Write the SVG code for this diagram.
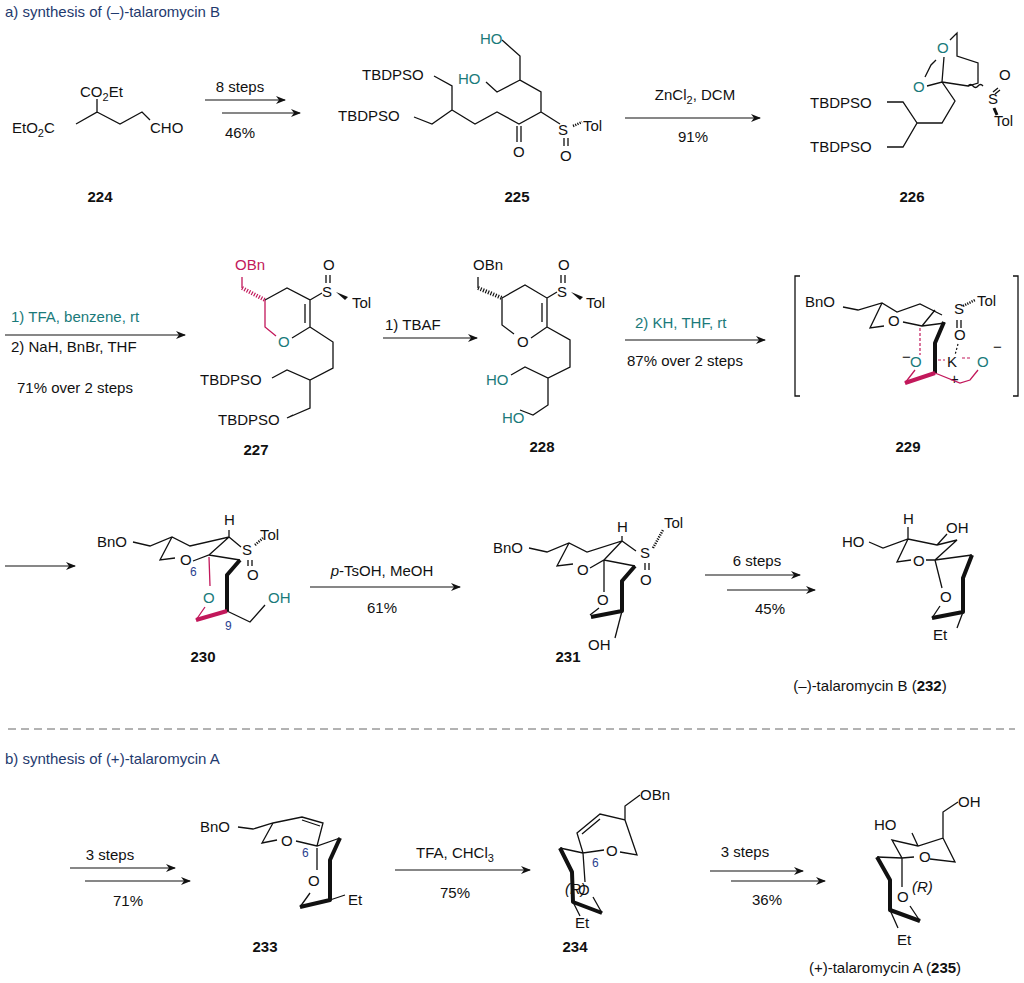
<svg xmlns="http://www.w3.org/2000/svg" width="1024" height="983" viewBox="0 0 1024 983">
<style>
text{font-family:"Liberation Sans",Arial,sans-serif;font-size:15px;fill:#111}
.h{fill:#1f3a6e}
.t{fill:#1a7a7a}
.m{fill:#c2185b}
.n{fill:#2a3f8f;font-size:12px}
.b{font-weight:bold}
.c{text-anchor:middle}
.bd{stroke:#111;stroke-width:1.3;fill:none}
.w{stroke:#111;stroke-width:4;fill:none;stroke-linejoin:round}
.mg{stroke:#c2185b;stroke-width:1.3;fill:none}
.mw{stroke:#c2185b;stroke-width:4;fill:none}
.hs{stroke:#111;stroke-width:4;stroke-dasharray:1.2,1.5;fill:none}
.ar{stroke:#111;stroke-width:1.2;fill:none;marker-end:url(#ah)}
</style>
<defs><marker id="ah" markerWidth="10" markerHeight="8" refX="9" refY="4" orient="auto" markerUnits="userSpaceOnUse"><path d="M0,0 L10,4 L0,8 L3,4 z" fill="#111"/></marker></defs>
<rect width="1024" height="983" fill="#fff"/>
<text class="h" x="5" y="17">a) synthesis of (–)-talaromycin B</text>
<text class="h" x="5" y="764">b) synthesis of (+)-talaromycin A</text>
<line x1="8" y1="729" x2="1015" y2="729" stroke="#666" stroke-width="1" stroke-dasharray="8,5"/>

<g id="connectors">
<line class="ar" x1="205" y1="100" x2="285" y2="100"/><line class="ar" x1="222" y1="113" x2="300" y2="113"/>
<text class="c" x="240" y="92">8 steps</text><text class="c" x="240" y="138">46%</text>
<line class="ar" x1="625" y1="118" x2="760" y2="118"/>
<text class="c" x="695" y="100">ZnCl<tspan font-size="11" dy="4">2</tspan><tspan dy="-4">, DCM</tspan></text><text class="c" x="693" y="142">91%</text>
<line class="ar" x1="5" y1="335" x2="185" y2="335"/>
<text class="t" x="11" y="322">1) TFA, benzene, rt</text><text x="11" y="352">2) NaH, BnBr, THF</text><text x="17" y="393">71% over 2 steps</text>
<line class="ar" x1="383" y1="338" x2="477" y2="338"/>
<text x="385" y="330">1) TBAF</text>
<line class="ar" x1="625" y1="340" x2="765" y2="340"/>
<text class="t" x="635" y="328">2) KH, THF, rt</text><text x="627" y="366">87% over 2 steps</text>
<line class="ar" x1="5" y1="566" x2="75" y2="566"/>
<line class="ar" x1="310" y1="587" x2="460" y2="587"/>
<text class="c" x="382" y="576"><tspan font-style="italic">p</tspan>-TsOH, MeOH</text><text class="c" x="382" y="613">61%</text>
<line class="ar" x1="705" y1="575" x2="800" y2="575"/><line class="ar" x1="727" y1="590" x2="815" y2="590"/>
<text class="c" x="757" y="566">6 steps</text><text class="c" x="770" y="614">45%</text>
<line class="ar" x1="70" y1="868" x2="175" y2="868"/><line class="ar" x1="85" y1="881" x2="190" y2="881"/>
<text class="c" x="110" y="860">3 steps</text><text class="c" x="128" y="906">71%</text>
<line class="ar" x1="395" y1="870" x2="530" y2="870"/>
<text class="c" x="455" y="858">TFA, CHCl<tspan font-size="11" dy="4">3</tspan></text><text class="c" x="455" y="898">75%</text>
<line class="ar" x1="710" y1="871" x2="803" y2="871"/><line class="ar" x1="731" y1="881" x2="825" y2="881"/>
<text class="c" x="745" y="857">3 steps</text><text class="c" x="767" y="905">36%</text>
</g>

<g id="n224">
<text x="80" y="97">CO<tspan font-size="11" dy="4">2</tspan><tspan dy="-4">Et</tspan></text>
<text x="12" y="133">EtO<tspan font-size="11" dy="4">2</tspan><tspan dy="-4">C</tspan></text>
<text x="150" y="133">CHO</text>
<path class="bd" d="M76,124 L97,112 L97,99 M97,112 L120,124 L142,112 L150,120"/>
<text class="b c" x="100" y="202">224</text>
</g>

<g id="n225">
<text x="362" y="80">TBDPSO</text><text x="338" y="121">TBDPSO</text>
<text class="t" x="480" y="44">HO</text><text class="t" x="458" y="84">HO</text>
<text x="513" y="157">O</text><text x="558" y="135">S</text><text x="583" y="131">Tol</text><text x="560" y="161">O</text>
<path class="bd" d="M434,76 L452,86 L452,110 M414,117 L432,124 L452,110 L475,124 L497,112 L519,124 L541,112 L560,124 M541,112 L541,92 L520,80 L520,56 L502,40 M520,80 L497,92 L486,82"/>
<path class="bd" d="M517,126 L517,142 M521,126 L521,142 M564,138 L564,146 M568,138 L568,146"/>
<path d="M573,126 L582,122" stroke="#111" stroke-width="2.5" stroke-dasharray="1.2,1.2"/>
<text class="b c" x="517" y="202">225</text>
</g>

<g id="n226">
<text x="810" y="108">TBDPSO</text><text x="810" y="152">TBDPSO</text>
<text class="t" x="913" y="92">O</text><text class="t" x="937" y="53">O</text>
<text x="988" y="104">S</text><text x="999" y="80">O</text><text x="994" y="126">Tol</text>
<path class="bd" d="M887,102 L903,102 L917,123 L903,147 L887,147 M917,123 L942,123 L955,101 L942,82 L927,86 M942,82 L944,57 M950,40 L957,33 L957,56 L978,63 L978,83 L968,86 L942,82 M925,77 L931,65 L936,60"/>
<path class="bd" d="M968,86 q2.5,-3 5,0 t5,0 t5,0"/>
<path class="bd" d="M998,88 L993,92 M1000,90 L995,94"/>
<path d="M994,108 L997,115" stroke="#111" stroke-width="3"/>
<text class="b c" x="912" y="202">226</text>
</g>

<g id="n227">
<text class="m" x="235" y="270">OBn</text>
<text class="t" x="278" y="347">O</text><text x="322" y="297">S</text><text x="323" y="270">O</text><text x="352" y="308">Tol</text>
<text x="200" y="385">TBDPSO</text><text x="218" y="425">TBDPSO</text>
<path class="mg" d="M242,277 L242,288 M265,300 L265,327 L276,336"/>
<path class="hs" d="M242,288 L265,300" style="stroke:#c2185b"/>
<path class="bd" d="M265,300 L287,288 L310,300 L310,327 L292,338 M305,304 L305,323 M310,300 L322,293 M310,327 L333,342 L333,368 L310,380 L287,370 L272,378 M310,380 L310,408 L287,418 L293,415"/>
<path class="bd" d="M326,275 L326,283 M330,275 L330,283"/>
<path d="M336,292 L348,297 L345,300 z" fill="#111"/>
<text class="b c" x="256" y="455">227</text>
</g>

<g id="n228">
<text x="473" y="270">OBn</text>
<text x="517" y="347">O</text><text x="557" y="297">S</text><text x="558" y="270">O</text><text x="586" y="308">Tol</text>
<text class="t" x="486" y="385">HO</text><text class="t" x="502" y="423">HO</text>
<path class="hs" d="M478,288 L502,298"/>
<path class="bd" d="M478,277 L478,288 M502,298 L525,285 L547,298 L547,327 L531,338 M542,303 L542,322 M547,298 L557,292 M502,298 L502,325 L514,334 M547,327 L570,340 L570,367 L548,378 L525,367 L511,375 M548,378 L548,405 L533,415 L520,410"/>
<path class="bd" d="M561,275 L561,283 M565,275 L565,283"/>
<path d="M571,292 L583,297 L580,300 z" fill="#111"/>
<text class="b c" x="542" y="452">228</text>
</g>

<g id="n229">
<path class="bd" d="M800,276 L795,276 L795,396 L800,396 M1013,276 L1018,276 L1018,396 L1013,396"/>
<text x="805" y="307">BnO</text>
<text x="888" y="326">O</text><text x="954" y="314">S</text><text x="977" y="306">Tol</text><text x="954" y="340">O</text>
<text class="t" x="910" y="367">O</text><text x="902" y="362">−</text><text x="947" y="367">K</text><text class="t" x="977" y="367">O</text><text x="993" y="352">−</text><text x="950" y="384">+</text>
<path class="bd" d="M843,307 L858,310 L882,303 L897,312 L920,304 L942,315 M882,303 L870,328 L884,326 M903,322 L922,326 L945,323 M922,326 L935,310"/>
<path class="w" d="M944,322 L935,343 L935,373"/>
<path class="mw" d="M935,373 L905,383"/>
<path class="mg" d="M905,383 L915,370 M935,373 L960,383 L970,380 L978,370"/>
<path d="M920,328 L920,355 M962,358 L970,358 M938,360 L945,360" stroke="#c2185b" stroke-width="1.2" stroke-dasharray="3,2" fill="none"/>
<path class="bd" d="M957,320 L957,328 M961,320 L961,328"/>
<path d="M958,344 L955,355" stroke="#111" stroke-width="1.2" stroke-dasharray="2,2"/>
<path d="M963,306 L975,300" stroke="#111" stroke-width="2.5" stroke-dasharray="1.2,1.2"/>
<text class="b c" x="908" y="452">229</text>
</g>

<g id="n230">
<text x="97" y="547">BnO</text><text x="224" y="525">H</text>
<text x="242" y="555">S</text><text x="260" y="540">Tol</text><text x="247" y="580">O</text>
<text x="180" y="565">O</text>
<text class="t" x="203" y="603">O</text><text class="t" x="268" y="603">OH</text>
<text class="n" x="190" y="576">6</text><text class="n" x="225" y="630">9</text>
<path class="bd" d="M133,542 L150,546 L172,537 L190,546 L229,537 L241,547 M172,537 L160,560 L175,558 M193,561 L209,555 L240,560 M229,537 L229,530 M209,555 L229,537"/>
<path class="w" d="M240,560 L227,575 L227,611"/>
<path class="mw" d="M227,611 L196,620"/>
<path class="mg" d="M196,620 L205,607 M209,557 L210,586"/>
<path class="bd" d="M227,611 L250,622 L265,605"/>
<path class="bd" d="M248,560 L248,566 M252,560 L252,566"/>
<path d="M255,545 L263,538" stroke="#111" stroke-width="2.5" stroke-dasharray="1.2,1.2"/>
<text class="b c" x="203" y="662">230</text>
</g>

<g id="n231">
<text x="493" y="553">BnO</text><text x="617" y="532">H</text>
<text x="640" y="558">S</text><text x="664" y="528">Tol</text><text x="640" y="585">O</text>
<text x="577" y="575">O</text><text x="597" y="605">O</text><text x="588" y="650">OH</text>
<path class="bd" d="M529,548 L547,552 L569,543 L587,552 L622,541 L636,551 M569,543 L557,566 L573,564 M590,568 L604,560 L635,566 M622,541 L622,536 M604,560 L622,541 M604,561 L604,592 M599,608 L590,615"/>
<path class="w" d="M635,566 L622,581 L622,611 L591,617"/>
<path class="bd" d="M622,611 L615,638"/>
<path class="bd" d="M645,563 L645,570 M649,563 L649,570"/>
<path d="M653,548 L663,530" stroke="#111" stroke-width="2.5" stroke-dasharray="1.2,1.2"/>
<text class="b c" x="568" y="662">231</text>
</g>

<g id="n232">
<text x="842" y="547">HO</text><text x="903" y="524">H</text><text x="946" y="533">OH</text>
<text x="913" y="566">O</text><text x="940" y="602">O</text><text x="933" y="640">Et</text>
<path class="bd" d="M869,542 L883,548 L908,539 L937,545 L957,540 L935,560 L926,560 M911,560 L897,562 L908,539 M908,539 L908,527 M937,545 L947,534 M935,560 L972,555 M935,560 L942,588 M940,606 L932,618 M963,612 L957,628"/>
<path class="w" d="M972,555 L963,578 L963,612 L932,618"/>
<text class="c" x="870" y="691">(–)-talaromycin B (<tspan font-weight="bold">232</tspan>)</text>
</g>

<g id="n233">
<text x="200" y="832">BnO</text><text x="281" y="846">O</text>
<text class="n" x="302" y="857">6</text><text x="308" y="886">O</text><text x="348" y="905">Et</text>
<path class="bd" d="M238,827 L253,829 L273,823 L302,817 L323,823 L317,846 M302,820 L320,826 M273,823 L262,843 L277,840 M296,841 L317,846 L340,838 M317,848 L317,870"/>
<path class="w" d="M340,838 L330,860 L330,900 L300,907"/>
<path class="bd" d="M300,907 L310,893 M330,900 L345,895"/>
<text class="b c" x="265" y="952">233</text>
</g>

<g id="n234">
<text x="640" y="800">OBn</text><text x="606" y="856">O</text>
<text class="n" x="592" y="867">6</text><text x="565" y="894" font-style="italic">(R)</text><text x="578" y="895">O</text>
<text x="575" y="928">Et</text>
<path class="bd" d="M640,795 L625,806 L625,820 L600,814 L577,833 L583,853 L604,850 M600,819 L582,834 M625,820 L637,855 L620,852 M583,853 L560,848 M583,853 L585,882 M593,897 L602,913 M573,902 L580,916"/>
<path class="w" d="M560,848 L572,872 L573,902 L602,913"/>
<text class="b c" x="575" y="952">234</text>
</g>

<g id="n235">
<text x="958" y="807">OH</text><text x="874" y="830">HO</text>
<text x="919" y="862">O</text><text x="897" y="902">O</text><text x="912" y="892" font-style="italic">(R)</text>
<text x="897" y="945">Et</text>
<path class="bd" d="M958,802 L943,812 L943,838 L918,846 L892,840 L902,858 L914,857 M930,859 L955,862 L943,838 M918,846 L912,833 M902,858 L877,857 M902,858 L902,887 M910,906 L920,921 M890,910 L898,928"/>
<path class="w" d="M877,857 L890,880 L890,910 L920,921"/>
<text class="c" x="885" y="973">(+)-talaromycin A (<tspan font-weight="bold">235</tspan>)</text>
</g>
</svg>
